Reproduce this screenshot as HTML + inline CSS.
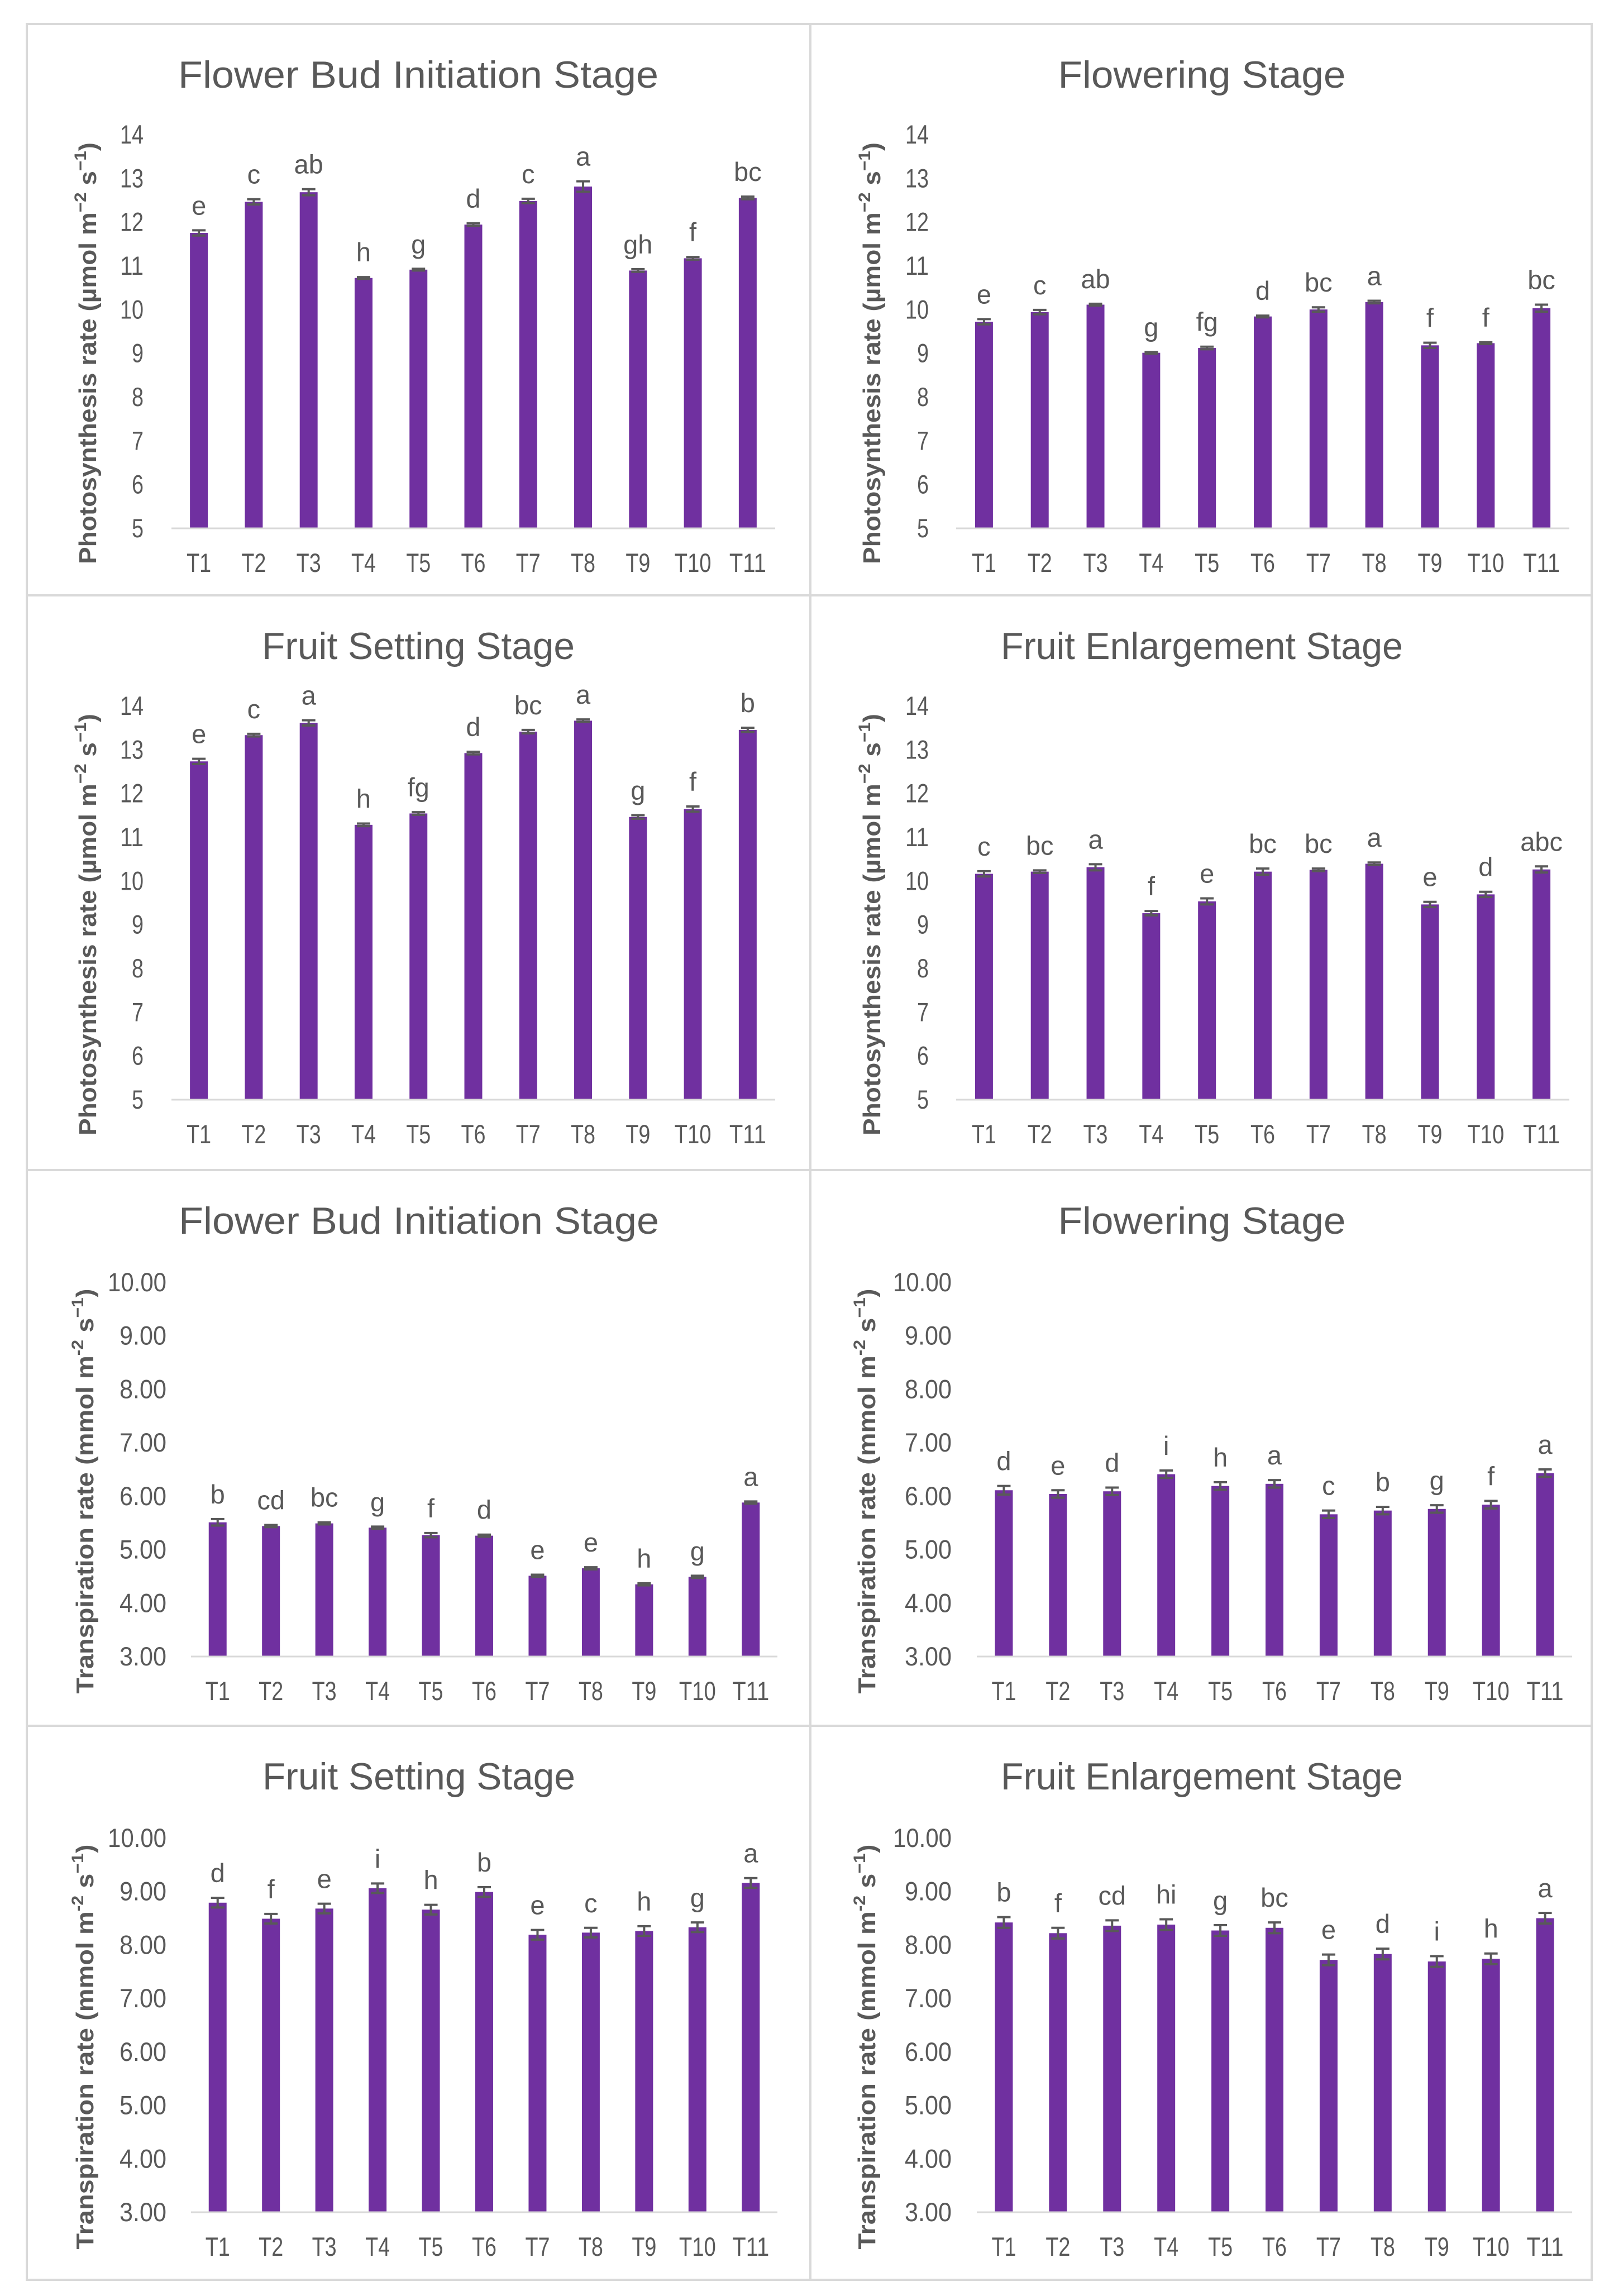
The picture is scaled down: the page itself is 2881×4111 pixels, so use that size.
<!DOCTYPE html>
<html><head><meta charset="utf-8">
<style>
html,body{margin:0;padding:0;background:#fff;}
svg{display:block;}
text{font-family:"Liberation Sans",sans-serif;fill:#595959;}
</style></head>
<body>
<svg id="fig" width="2881" height="4111" viewBox="0 0 2881 4111" xmlns="http://www.w3.org/2000/svg">
<g id="frame" fill="none" stroke="#d9d9d9" stroke-width="4">
<rect x="48" y="43" width="2802" height="4039"/>
<line x1="1451" y1="43" x2="1451" y2="4082"/>
<line x1="48" y1="1066" x2="2850" y2="1066"/>
<line x1="48" y1="2095" x2="2850" y2="2095"/>
<line x1="48" y1="3090" x2="2850" y2="3090"/>
</g>
</svg>
<script>
const categories = ["T1","T2","T3","T4","T5","T6","T7","T8","T9","T10","T11"];
const photoTicks = ["5","6","7","8","9","10","11","12","13","14"];
const transTicks = ["3.00","4.00","5.00","6.00","7.00","8.00","9.00","10.00"];
const p1Values = [11.74,12.45,12.67,10.71,10.90,11.93,12.47,12.80,10.88,11.16,12.54];
const p1Err = [0.06,0.06,0.07,0.02,0.02,0.03,0.05,0.12,0.03,0.03,0.03];
const p1Letters = ["e","c","ab","h","g","d","c","a","gh","f","bc"];
const p2Values = [9.71,9.93,10.10,9.00,9.11,9.83,9.99,10.16,9.17,9.22,10.02];
const p2Err = [0.06,0.05,0.02,0.02,0.03,0.02,0.05,0.03,0.06,0.02,0.08];
const p2Letters = ["e","c","ab","g","fg","d","bc","a","f","f","bc"];
const p3Values = [12.72,13.32,13.60,11.27,11.53,12.91,13.40,13.65,11.45,11.63,13.44];
const p3Err = [0.06,0.03,0.06,0.03,0.03,0.03,0.04,0.03,0.04,0.06,0.05];
const p3Letters = ["e","c","a","h","fg","d","bc","a","g","f","b"];
const p4Values = [10.15,10.20,10.30,9.25,9.52,10.20,10.24,10.38,9.45,9.68,10.25];
const p4Err = [0.06,0.03,0.07,0.05,0.07,0.07,0.03,0.03,0.06,0.06,0.07];
const p4Letters = ["c","bc","a","f","e","bc","bc","a","e","d","abc"];
const p5Values = [5.50,5.43,5.48,5.40,5.26,5.25,4.50,4.64,4.34,4.48,5.87];
const p5Err = [0.06,0.02,0.02,0.02,0.04,0.02,0.02,0.02,0.02,0.02,0.02];
const p5Letters = ["b","cd","bc","g","f","d","e","e","h","g","a"];
const p6Values = [6.10,6.03,6.08,6.40,6.18,6.22,5.65,5.72,5.75,5.83,6.42];
const p6Err = [0.08,0.07,0.07,0.07,0.07,0.07,0.07,0.07,0.07,0.07,0.07];
const p6Letters = ["d","e","d","i","h","a","c","b","g","f","a"];
const p7Values = [8.78,8.48,8.67,9.05,8.65,8.98,8.18,8.22,8.25,8.32,9.15];
const p7Err = [0.09,0.09,0.09,0.09,0.09,0.09,0.09,0.09,0.09,0.09,0.09];
const p7Letters = ["d","f","e","i","h","b","e","c","h","g","a"];
const p8Values = [8.41,8.21,8.35,8.37,8.26,8.31,7.71,7.82,7.68,7.73,8.49];
const p8Err = [0.1,0.1,0.1,0.1,0.1,0.1,0.1,0.1,0.1,0.1,0.1];
const p8Letters = ["b","f","cd","hi","g","bc","e","d","i","h","a"];

const NS = "http://www.w3.org/2000/svg";
const svg = document.getElementById("fig");
function mk(tag, attrs, parent){ const e=document.createElementNS(NS,tag); for(const k in attrs) e.setAttribute(k,attrs[k]); (parent||svg).appendChild(e); return e; }

const PHOTO_Y = "Photosynthesis rate (µmol m<tspan dy='-18' font-size='30'>−2</tspan><tspan dy='18'> s</tspan><tspan dy='-18' font-size='30'>−1</tspan><tspan dy='18'>)</tspan>";
const TRANS_Y = "Transpiration rate (mmol m<tspan dy='-18' font-size='30'>-2</tspan><tspan dy='18'> s</tspan><tspan dy='-18' font-size='30'>−1</tspan><tspan dy='18'>)</tspan>";

const panels = [
 {name:"photo-flower-bud",title:"Flower Bud Initiation Stage",vals:p1Values,err:p1Err,let:p1Letters,ticks:photoTicks,min:5,max:14,top:43,x0:307,x1:1388,tickR:257,ytx:157,cx:749,kind:"p"},
 {name:"photo-flowering",title:"Flowering Stage",vals:p2Values,err:p2Err,let:p2Letters,ticks:photoTicks,min:5,max:14,top:43,x0:1712,x1:2810,tickR:1663,ytx:1561,cx:2152,kind:"p"},
 {name:"photo-fruit-setting",title:"Fruit Setting Stage",vals:p3Values,err:p3Err,let:p3Letters,ticks:photoTicks,min:5,max:14,top:1066,x0:307,x1:1388,tickR:257,ytx:157,cx:749,kind:"p"},
 {name:"photo-fruit-enlargement",title:"Fruit Enlargement Stage",vals:p4Values,err:p4Err,let:p4Letters,ticks:photoTicks,min:5,max:14,top:1066,x0:1712,x1:2810,tickR:1663,ytx:1561,cx:2152,kind:"p"},
 {name:"trans-flower-bud",title:"Flower Bud Initiation Stage",vals:p5Values,err:p5Err,let:p5Letters,ticks:transTicks,min:3,max:10,top:2095,x0:342,x1:1392,tickR:298,ytx:152,cx:750,kind:"t"},
 {name:"trans-flowering",title:"Flowering Stage",vals:p6Values,err:p6Err,let:p6Letters,ticks:transTicks,min:3,max:10,top:2095,x0:1749,x1:2815,tickR:1704,ytx:1552,cx:2152,kind:"t"},
 {name:"trans-fruit-setting",title:"Fruit Setting Stage",vals:p7Values,err:p7Err,let:p7Letters,ticks:transTicks,min:3,max:10,top:3090,x0:342,x1:1392,tickR:298,ytx:152,cx:750,kind:"t"},
 {name:"trans-fruit-enlargement",title:"Fruit Enlargement Stage",vals:p8Values,err:p8Err,let:p8Letters,ticks:transTicks,min:3,max:10,top:3090,x0:1749,x1:2815,tickR:1704,ytx:1552,cx:2152,kind:"t"}
];
const titleW = {"Flower Bud Initiation Stage":860,"Flowering Stage":515,"Fruit Setting Stage":560,"Fruit Enlargement Stage":720};

panels.forEach(p=>{
  const g = mk("g",{});
  
  
  const yTop = p.top + (p.kind==="p"?197:200);
  const yBase = p.top + (p.kind==="p"?902:870);
  const yScale = v => yBase - (v-p.min)/(p.max-p.min)*(yBase-yTop);
  const band = (p.x1-p.x0)/categories.length;
  const xScale = i => p.x0 + band*(i+0.5);
  const t = mk("text",{x:p.cx,y:p.top+114,"font-size":68,"text-anchor":"middle",textLength:titleW[p.title],lengthAdjust:"spacingAndGlyphs"},g);
  t.textContent = p.title;
  
  
  p.ticks.forEach(tk=>{
    const tt = mk("text",{x:p.tickR,y:yScale(parseFloat(tk))+17,"font-size":47,"text-anchor":"end",textLength:tk.length*21,lengthAdjust:"spacingAndGlyphs"},g);
    tt.textContent = tk;
    
    
  });
  const yt = mk("text",{x:0,y:0,"font-size":44,"font-weight":"bold","text-anchor":"middle",transform:`translate(${p.ytx+15},${(yTop+yBase)/2+40}) rotate(-90)`,textLength:p.kind==="p"?755:725,lengthAdjust:"spacingAndGlyphs"},g);
  yt.innerHTML = p.kind==="p"?PHOTO_Y:TRANS_Y;
  
  
  p.vals.forEach((v,i)=>{
    const cx = xScale(i), yv = yScale(v);
    const b = mk("rect",{x:cx-16,y:yv,width:32,height:yBase-yv,fill:"#7030a0"},g);
    
    
    const e1 = yScale(v+p.err[i]), e2 = yScale(v-p.err[i]);
    const eb = mk("path",{d:`M${cx} ${e1}V${e2}M${cx-12} ${e1}H${cx+12}M${cx-12} ${e2}H${cx+12}`,stroke:"#595959","stroke-width":4,fill:"none"},g);
    
    
    const l = mk("text",{x:cx,y:e1-28,"font-size":47,"text-anchor":"middle"},g);
    l.textContent = p.let[i];
    
    
    const xl = mk("text",{x:cx,y:p.top+(p.kind==="p"?981:949),"font-size":47,"text-anchor":"middle",textLength:categories[i].length*22,lengthAdjust:"spacingAndGlyphs"},g);
    xl.textContent = categories[i];
    
    
  });
  const ax = mk("line",{x1:p.x0,x2:p.x1,y1:yBase+1,y2:yBase+1,stroke:"#d9d9d9","stroke-width":3},g);
  
  
});
</script>
</body></html>
